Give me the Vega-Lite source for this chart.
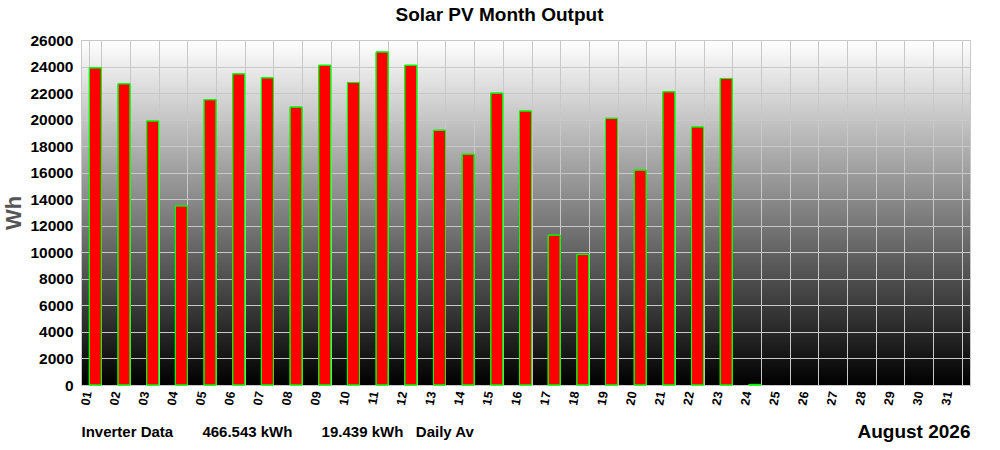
{
  "$schema": "https://vega.github.io/schema/vega-lite/v6.json",
  "autosize": {"type": "none"},
  "padding": {"left": 81, "top": 40, "right": 30, "bottom": 65},
  "width": 889,
  "height": 345,
  "background": "white",
  "title": {
    "text": "Solar PV Month Output",
    "fontSize": 19,
    "fontWeight": "bold",
    "font": "Liberation Sans",
    "color": "black",
    "anchor": "middle",
    "dx": -26,
    "offset": 8
  },
  "data": {
    "values": [
      {"day": "01", "wh": 23900},
      {"day": "02", "wh": 22700},
      {"day": "03", "wh": 19900},
      {"day": "04", "wh": 13500},
      {"day": "05", "wh": 21500},
      {"day": "06", "wh": 23450},
      {"day": "07", "wh": 23150},
      {"day": "08", "wh": 20950},
      {"day": "09", "wh": 24100},
      {"day": "10", "wh": 22800},
      {"day": "11", "wh": 25100},
      {"day": "12", "wh": 24100},
      {"day": "13", "wh": 19200},
      {"day": "14", "wh": 17400},
      {"day": "15", "wh": 22000},
      {"day": "16", "wh": 20650},
      {"day": "17", "wh": 11300},
      {"day": "18", "wh": 9850},
      {"day": "19", "wh": 20100},
      {"day": "20", "wh": 16200},
      {"day": "21", "wh": 22100},
      {"day": "22", "wh": 19450},
      {"day": "23", "wh": 23100},
      {"day": "24", "wh": 43}
    ]
  },
  "encoding": {
    "y": {
      "field": "wh",
      "type": "quantitative",
      "scale": {"domain": [0, 26000], "nice": false},
      "axis": {
        "title": "Wh",
        "titleFontSize": 22,
        "titleFontWeight": "bold",
        "titleColor": "#555555",
        "titlePadding": 4,
        "values": [0, 2000, 4000, 6000, 8000, 10000, 12000, 14000, 16000, 18000, 20000, 22000, 24000, 26000],
        "format": "d",
        "labelFontSize": 15.5,
        "labelFontWeight": "bold",
        "labelColor": "black",
        "labelPadding": 8,
        "ticks": false,
        "domain": false,
        "gridColor": "#c8c8c8",
        "gridOpacity": 1
      }
    }
  },
  "layer": [
    {
      "mark": {"type": "bar", "fill": "#ff0000", "stroke": "#00ff00", "strokeWidth": 1},
      "encoding": {
        "x": {
          "field": "day",
          "type": "ordinal",
          "scale": {
            "domain": ["01","02","03","04","05","06","07","08","09","10","11","12","13","14","15","16","17","18","19","20","21","22","23","24","25","26","27","28","29","30","31"],
            "paddingInner": 0.58,
            "paddingOuter": 0.29
          },
          "axis": {
            "title": "Inverter Data\u00a0\u00a0\u00a0\u00a0\u00a0\u00a0\u00a0466.543 kWh\u00a0\u00a0\u00a0\u00a0\u00a0\u00a0\u00a019.439 kWh\u00a0\u00a0\u00a0Daily Av",
            "titleAnchor": "start",
            "titleAlign": "left",
            "titleBaseline": "alphabetic",
            "titleY": 51,
            "titleFontSize": 15,
            "titleFontWeight": "bold",
            "titleColor": "black",
            "labelAngle": -80,
            "labelFontSize": 12.5,
            "labelFontWeight": "bold",
            "labelColor": "black",
            "labelOffset": -8,
            "labelPadding": 6,
            "ticks": false,
            "domain": false,
            "grid": true,
            "tickBand": "extent",
            "gridColor": "#c8c8c8",
            "gridOpacity": 1
          }
        }
      }
    },
    {
      "mark": {"type": "bar", "fillOpacity": 0, "stroke": "#00ff00", "strokeWidth": 1},
      "encoding": {
        "x": {
          "field": "day",
          "type": "ordinal",
          "axis": {
            "orient": "bottom",
            "title": "August 2026",
            "titleAnchor": "end",
            "titleAlign": "right",
            "titleBaseline": "alphabetic",
            "titleY": 52,
            "titleFontSize": 19,
            "titleFontWeight": "bold",
            "titleColor": "black",
            "labels": false,
            "ticks": false,
            "domain": false,
            "grid": false
          }
        }
      }
    }
  ],
  "resolve": {"axis": {"x": "independent"}},
  "config": {
    "font": "Liberation Sans",
    "view": {
      "stroke": "#c8c8c8",
      "fill": {
        "gradient": "linear",
        "x1": 0, "y1": 0, "x2": 0, "y2": 1,
        "stops": [
          {"offset": 0, "color": "#ffffff"},
          {"offset": 1, "color": "#000000"}
        ]
      }
    }
  }
}
